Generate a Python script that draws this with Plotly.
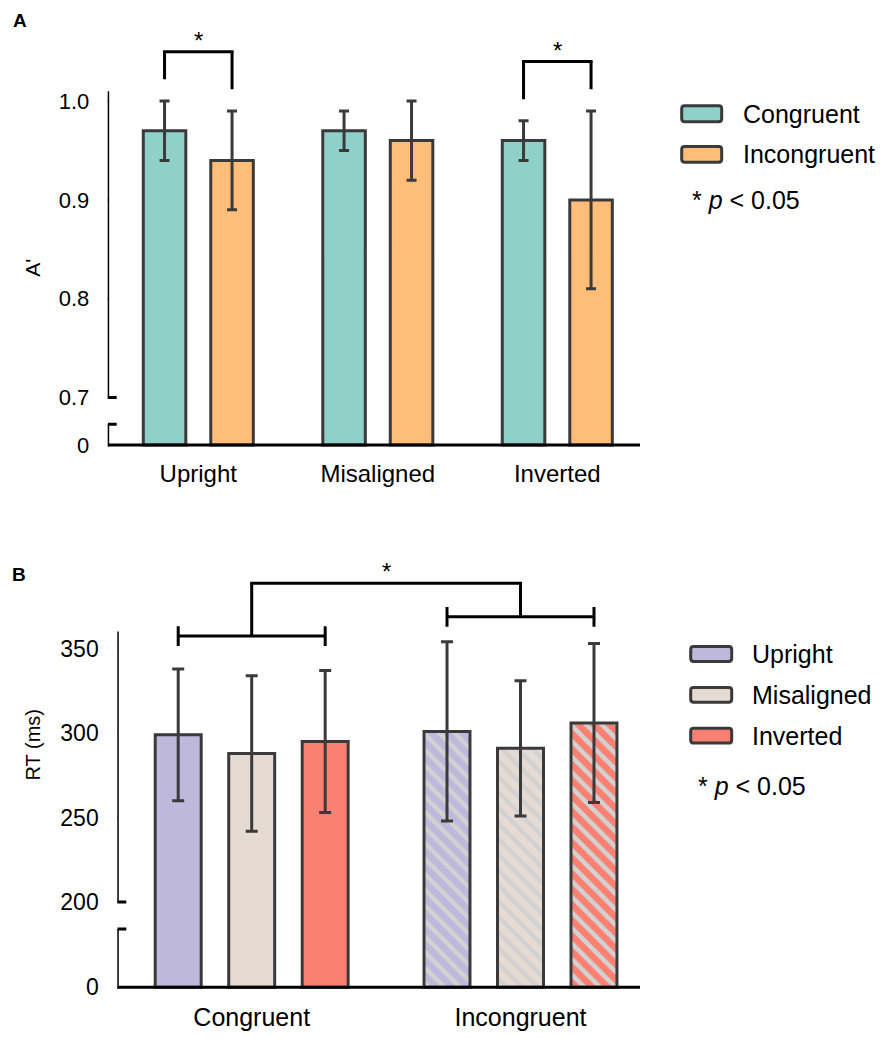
import plotly.graph_objects as go

W, H = 880, 1039
FONT = "Liberation Sans, Arial, Helvetica, sans-serif"

# ---------------- data ----------------
a_categories = ["Upright", "Misaligned", "Inverted"]
a_congruent = [0.97, 0.97, 0.96]
a_congruent_err = [0.03, 0.02, 0.02]
a_incongruent = [0.94, 0.96, 0.90]
a_incongruent_err = [0.05, 0.04, 0.09]
a_tick_values = [0.7, 0.8, 0.9, 1.0]
a_tick_labels = ["0.7", "0.8", "0.9", "1.0"]
a_significant = [0, 2]  # category indices marked with *

b_categories = ["Congruent", "Incongruent"]
b_upright = [299, 301]
b_upright_err = [39, 53]
b_misaligned = [288, 291]
b_misaligned_err = [46, 40]
b_inverted = [295, 306]
b_inverted_err = [42, 47]
b_tick_values = [200, 250, 300, 350]
b_tick_labels = ["200", "250", "300", "350"]

# ---------------- styles ----------------
TEAL = "#8fd0c8"
ORANGE = "#ffbd7a"
PURPLE = "#bdb8dc"
BEIGE = "#e6dbd3"
SALMON = "#fa8072"
EDGE = "#3a3a3a"
HATCH = "#d2d2d2"
AX = "#000000"
LW = 3

# ---------------- geometry (pixels) ----------------
# panel A
A_PX = 996.7            # px per unit
A_BASE_PX = 449         # row of the zero baseline
A_LOW_TICK_PX = 401     # row of lowest tick (after the break)
A_BREAK_PX = 428        # row where the lower axis piece ends
A_TOP_PX = 26
A_AXIS_TOP_PX = 92
A_X0_PX, A_X1_PX = 107.7, 640
A_FIRST_CENTER_PX = 198.3
A_SLOT = 179.5
A_BAR_SEP = 0.188       # half distance between the two bar centres (in slots)
A_BAR_W = 0.237

# panel B
B_PX = 1.7047
B_BASE_PX = 996
B_LOW_TICK_PX = 910
B_BREAK_PX = 937
B_TOP_PX = 556
B_AXIS_TOP_PX = 637
B_X0_PX, B_X1_PX = 117.3, 640
B_FIRST_CENTER_PX = 251.7
B_SLOT = 268.8
B_BAR_SEP = 0.2734
B_BAR_W = 0.171

SHIFT_A = a_tick_values[0] - (A_BASE_PX - A_LOW_TICK_PX) / A_PX
SHIFT_B = b_tick_values[0] - (B_BASE_PX - B_LOW_TICK_PX) / B_PX


def ya(v):
    return v - SHIFT_A


def yb(v):
    return v - SHIFT_B


def fx(xp):
    return xp / W


def fy(yp):
    return 1 - yp / H


def px_to_paper(xp, yp):
    return fx(xp), fy(yp)


fig = go.Figure()

# ---------------- panel A bars ----------------
a_x = list(range(len(a_categories)))
for vals, errs, col, off, name in [
    (a_congruent, a_congruent_err, TEAL, -A_BAR_SEP, "Congruent"),
    (a_incongruent, a_incongruent_err, ORANGE, A_BAR_SEP, "Incongruent"),
]:
    fig.add_trace(go.Bar(
        x=a_x, y=[ya(v) for v in vals], name=name,
        offset=off - A_BAR_W / 2, width=A_BAR_W,
        marker=dict(color=col, line=dict(color=EDGE, width=LW)),
        error_y=dict(type="data", array=errs, color=EDGE, thickness=LW, width=5),
        xaxis="x", yaxis="y", showlegend=False,
        customdata=vals, hovertemplate="%{customdata}<extra>" + name + "</extra>",
    ))

# ---------------- panel B bars ----------------
b_x = list(range(len(b_categories)))
b_series = [
    (b_upright, b_upright_err, PURPLE, -B_BAR_SEP, "Upright"),
    (b_misaligned, b_misaligned_err, BEIGE, 0.0, "Misaligned"),
    (b_inverted, b_inverted_err, SALMON, B_BAR_SEP, "Inverted"),
]
for vals, errs, col, off, name in b_series:
    # first category solid, second hatched
    fig.add_trace(go.Bar(
        x=b_x, y=[yb(v) for v in vals], name=name,
        offset=off - B_BAR_W / 2, width=B_BAR_W,
        marker=dict(
            color=col, line=dict(color=EDGE, width=LW),
            pattern=dict(shape=["", "\\"], fgcolor=HATCH, bgcolor=col,
                         size=11, solidity=0.4, fillmode="replace"),
        ),
        error_y=dict(type="data", array=errs, color=EDGE, thickness=LW, width=6),
        xaxis="x2", yaxis="y2", showlegend=False,
        customdata=vals, hovertemplate="%{customdata}<extra>" + name + "</extra>",
    ))

shapes = []
annotations = []


def seg(xref, yref, x0, y0, x1, y1, color=AX, width=LW):
    shapes.append(dict(type="line", xref=xref, yref=yref, x0=x0, y0=y0, x1=x1, y1=y1,
                       line=dict(color=color, width=width), layer="above"))


def pxseg(xref, yref, xanchor, dx0, dx1, y, color=AX, width=LW):
    shapes.append(dict(type="line", xref=xref, yref=yref, xsizemode="pixel", xanchor=xanchor,
                       x0=dx0, x1=dx1, y0=y, y1=y, line=dict(color=color, width=width), layer="above"))


def broken_axis(xref, yref, x_left, ticks, shift, px, base_px, break_px, axis_top_px, x_right):
    low = ticks[0] - shift
    top_val = (base_px - axis_top_px) / px
    # upper vertical piece
    seg(xref, yref, x_left, low, x_left, top_val)
    # lower vertical piece
    brk = (base_px - break_px) / px
    seg(xref, yref, x_left, -1.5 / px, x_left, brk)
    # ticks (lowest one also caps the upper piece)
    for i, t in enumerate(ticks):
        pxseg(xref, yref, x_left, -9, 9 if i == 0 else 0, t - shift)
    # cap of lower piece
    pxseg(xref, yref, x_left, 0, 9, brk)
    # baseline
    seg(xref, yref, x_left, 0, x_right, 0)


# ---------------- axes geometry ----------------
a_xr0 = -(A_FIRST_CENTER_PX - A_X0_PX) / A_SLOT
a_xr1 = a_xr0 + (A_X1_PX - A_X0_PX) / A_SLOT
a_yr0 = -4 / A_PX
a_yr1 = (A_BASE_PX - A_TOP_PX) / A_PX

b_xr0 = -(B_FIRST_CENTER_PX - B_X0_PX) / B_SLOT
b_xr1 = b_xr0 + (B_X1_PX - B_X0_PX) / B_SLOT
b_yr0 = -4 / B_PX
b_yr1 = (B_BASE_PX - B_TOP_PX) / B_PX

broken_axis("x", "y", a_xr0, a_tick_values, SHIFT_A, A_PX, A_BASE_PX, A_BREAK_PX, A_AXIS_TOP_PX, a_xr1)
broken_axis("x2", "y2", b_xr0, b_tick_values, SHIFT_B, B_PX, B_BASE_PX, B_BREAK_PX, B_AXIS_TOP_PX, b_xr1)

# ---------------- significance brackets, panel A ----------------
for g in a_significant:
    top_c = a_congruent[g] + a_congruent_err[g]
    top_i = a_incongruent[g] + a_incongruent_err[g]
    h = max(top_c, top_i) + 0.05
    xl, xr = g - A_BAR_SEP, g + A_BAR_SEP
    seg("x", "y", xl, ya(top_c + 0.022), xl, ya(h))
    seg("x", "y", xr, ya(top_i + 0.022), xr, ya(h))
    seg("x", "y", xl - 1.5 / A_SLOT, ya(h), xr + 1.5 / A_SLOT, ya(h))
    annotations.append(dict(x=g, y=ya(h), xref="x", yref="y", text="*", showarrow=False,
                            xanchor="center", yanchor="bottom", yshift=-4,
                            font=dict(size=24, color="black", family=FONT)))

# ---------------- significance brackets, panel B ----------------
B_GROUP_BRACKET = [357.4, 368.8]
B_TOP_BRACKET = 388.7
for g, hy in zip(b_x, B_GROUP_BRACKET):
    xl, xr = g - B_BAR_SEP, g + B_BAR_SEP
    seg("x2", "y2", xl, yb(hy), xr, yb(hy))
    for xx in (xl, xr):
        seg("x2", "y2", xx, yb(hy) - 10 / B_PX, xx, yb(hy) + 10 / B_PX)
    seg("x2", "y2", g, yb(hy), g, yb(B_TOP_BRACKET))
seg("x2", "y2", b_x[0] - 1.5 / B_SLOT, yb(B_TOP_BRACKET), b_x[-1] + 1.5 / B_SLOT, yb(B_TOP_BRACKET))
annotations.append(dict(x=sum(b_x) / len(b_x), y=yb(B_TOP_BRACKET), xref="x2", yref="y2", text="*",
                        showarrow=False, xanchor="center", yanchor="bottom", yshift=-4,
                        font=dict(size=24, color="black", family=FONT)))


# ---------------- legends (drawn) ----------------
def swatch(x0, y0, x1, y1, color, r=3):
    P = lambda xp, yp: "%.5f,%.5f" % px_to_paper(xp, yp)
    path = ("M " + P(x0 + r, y0) + " L " + P(x1 - r, y0) + " Q " + P(x1, y0) + " " + P(x1, y0 + r) +
            " L " + P(x1, y1 - r) + " Q " + P(x1, y1) + " " + P(x1 - r, y1) +
            " L " + P(x0 + r, y1) + " Q " + P(x0, y1) + " " + P(x0, y1 - r) +
            " L " + P(x0, y0 + r) + " Q " + P(x0, y0) + " " + P(x0 + r, y0) + " Z")
    shapes.append(dict(type="path", xref="paper", yref="paper", path=path, fillcolor=color,
                       line=dict(color=EDGE, width=LW)))


def label(xp, yp, text, size=25, anchor="left", bold=False, angle=0):
    x, y = px_to_paper(xp, yp)
    annotations.append(dict(x=x, y=y, xref="paper", yref="paper", text=("<b>%s</b>" % text) if bold else text,
                            showarrow=False, xanchor=anchor, yanchor="middle", textangle=angle,
                            font=dict(size=size, color="black", family=FONT)))


a_legend = [("Congruent", TEAL), ("Incongruent", ORANGE)]
for i, (nm, col) in enumerate(a_legend):
    yc = 114.7 + i * 41
    swatch(681.7, yc - 8, 721.7, yc + 8, col)
    label(741, yc, nm)
label(690, 202, "* <i>p</i> &lt; 0.05")

b_legend = [("Upright", PURPLE), ("Misaligned", BEIGE), ("Inverted", SALMON)]
for i, (nm, col) in enumerate(b_legend):
    yc = 659.7 + i * 41.2
    swatch(690.7, yc - 7.5, 731.7, yc + 7.5, col)
    label(750, yc, nm)
label(696, 793, "* <i>p</i> &lt; 0.05")

# panel letters and axis titles
label(20, 21, "A", size=19, anchor="center", bold=True)
label(19, 580, "B", size=19, anchor="center", bold=True)
label(33, 270, "A'", size=21, anchor="center", angle=-90)
label(33, 752, "RT (ms)", size=20, anchor="center", angle=-90)

axis_common = dict(showgrid=False, zeroline=False, showline=False, fixedrange=True)

fig.update_layout(
    width=W, height=H, autosize=False,
    margin=dict(l=0, r=0, t=0, b=0),
    paper_bgcolor="white", plot_bgcolor="rgba(0,0,0,0)",
    barmode="overlay", showlegend=False,
    font=dict(family=FONT, color="black"),
    xaxis=dict(domain=[fx(A_X0_PX), fx(A_X1_PX)], range=[a_xr0, a_xr1], anchor="y",
               tickmode="array", tickvals=a_x, ticktext=a_categories,
               tickfont=dict(size=24, color="black", family=FONT),
               ticks="outside", ticklen=3, tickcolor="rgba(0,0,0,0)", **axis_common),
    yaxis=dict(domain=[fy(A_BASE_PX + 4), fy(A_TOP_PX)], range=[a_yr0, a_yr1], anchor="x",
               tickmode="array", tickvals=[0] + [ya(t) for t in a_tick_values],
               ticktext=["0"] + a_tick_labels,
               tickfont=dict(size=22, color="black", family=FONT),
               ticks="outside", ticklen=13, tickcolor="rgba(0,0,0,0)", **axis_common),
    xaxis2=dict(domain=[fx(B_X0_PX), fx(B_X1_PX)], range=[b_xr0, b_xr1], anchor="y2",
                tickmode="array", tickvals=b_x, ticktext=b_categories,
                tickfont=dict(size=25, color="black", family=FONT),
                ticks="outside", ticklen=4, tickcolor="rgba(0,0,0,0)", **axis_common),
    yaxis2=dict(domain=[fy(B_BASE_PX + 4), fy(B_TOP_PX)], range=[b_yr0, b_yr1], anchor="x2",
                tickmode="array", tickvals=[0] + [yb(t) for t in b_tick_values],
                ticktext=["0"] + b_tick_labels,
                tickfont=dict(size=23, color="black", family=FONT),
                ticks="outside", ticklen=13, tickcolor="rgba(0,0,0,0)", **axis_common),
    shapes=shapes,
    annotations=annotations,
)

# remove the browser's default page margin so the 880x1039 figure fills the window exactly
fig.write_html(
    "out.html",
    config={"displayModeBar": False},
    post_script="document.documentElement.style.margin='0';document.body.style.margin='0';"
                "document.body.style.overflow='hidden';",
)
